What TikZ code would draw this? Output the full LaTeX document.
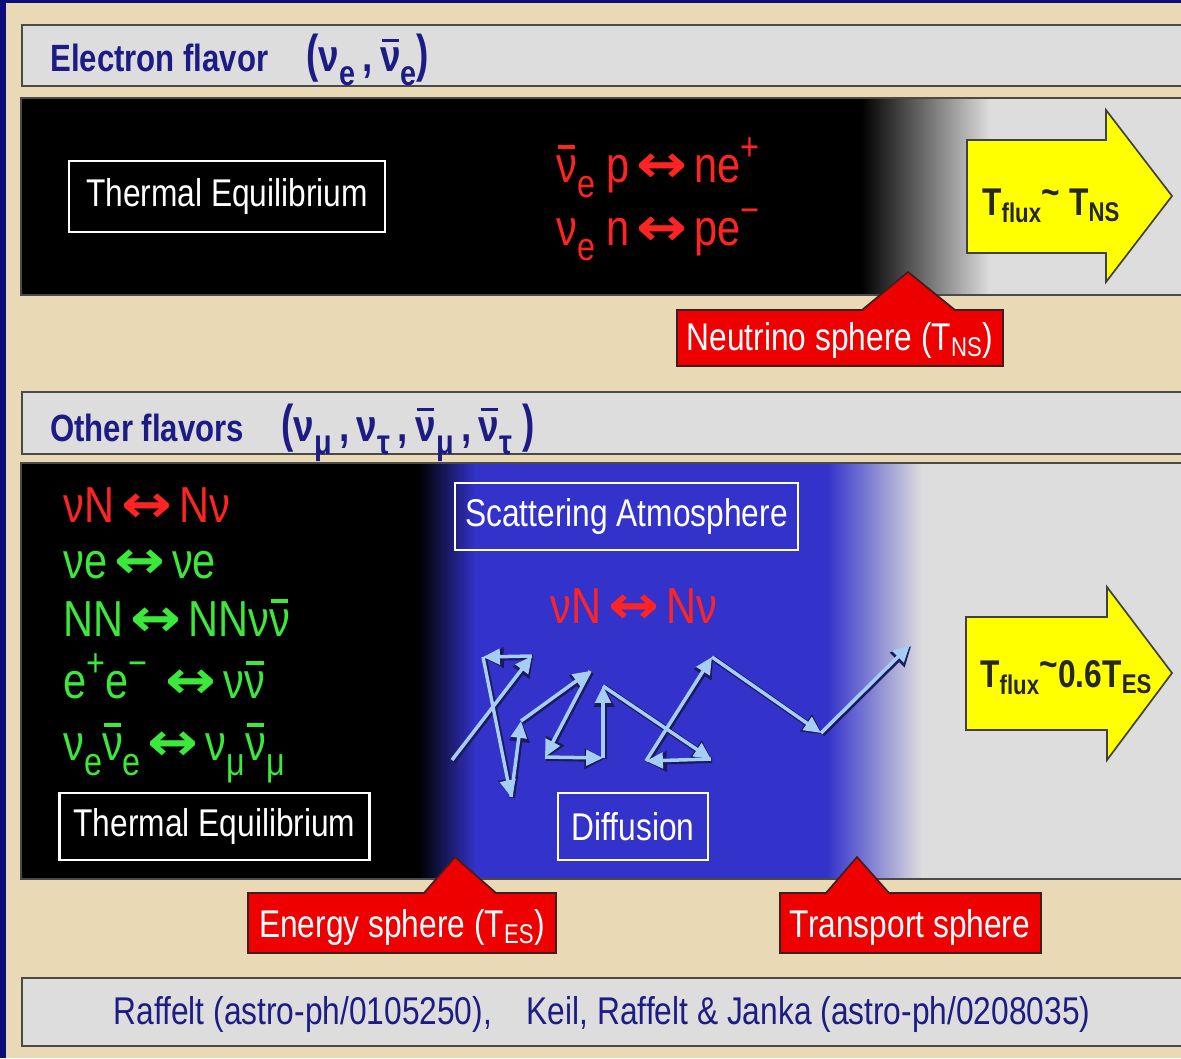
\documentclass[tikz,border=0pt]{standalone}
\usepackage{fontspec}
\setmainfont{Liberation Sans}[FakeStretch=0.82]
\newfontfamily\arrowfont{DejaVu Sans}
\usetikzlibrary{arrows.meta}
\definecolor{bgtan}{HTML}{EAD9B5}
\definecolor{frameblue}{HTML}{0C0C7A}
\definecolor{panelgray}{HTML}{DDDDDD}
\definecolor{panelline}{HTML}{4A4A4A}
\definecolor{navytext}{HTML}{1C1C84}
\definecolor{atmblue}{HTML}{3333CC}
\definecolor{callred}{HTML}{EE0000}
\definecolor{calloutline}{HTML}{3A2020}
\definecolor{rxred}{HTML}{FF2424}
\definecolor{rxgreen}{HTML}{3CE83C}
\definecolor{walkblue}{HTML}{A6CEF5}
\definecolor{walkshade}{HTML}{1A1A5E}
\definecolor{yfill}{HTML}{FFFF00}
\newcommand{\myNubar}{\leavevmode\setbox0=\hbox{ν}\rlap{\kern0.08\wd0\raisebox{0.66em}{\rule{0.84\wd0}{0.075em}}}\box0}
\newcommand{\myLR}{\hspace{0.14em}{\arrowfont\bfseries\scalebox{1.2}[1.05]{↔}}\hspace{0.14em}}
\newcommand{\mysub}[1]{\raisebox{-0.3em}{\scalebox{0.78}{#1}}}
\newcommand{\mysup}[1]{\raisebox{0.42em}{\scalebox{0.78}{#1}}}
\begin{document}
\begin{tikzpicture}[x=0.025cm, y=-0.025cm,
  hdrtxt/.style={font=\fontsize{27}{30}\selectfont\bfseries, text=navytext, anchor=base west, inner sep=0},
  hdrgrp/.style={font=\fontsize{32}{36}\selectfont\bfseries, text=navytext, anchor=base west, inner sep=0},
  tbox/.style={draw=white, line width=1.5pt, font=\fontsize{27.5}{30}\selectfont, text=white, inner sep=0},
  rx/.style={font=\fontsize{36}{40}\selectfont, anchor=base west, inner sep=0},
  panel/.style={fill=panelgray, draw=panelline, line width=1.4pt},
  bandline/.style={draw=panelline, line width=1.4pt},
  callout/.style={fill=callred, draw=calloutline, line width=1.2pt, line join=miter},
  calltxt/.style={font=\fontsize{27.5}{30}\selectfont, text=white, anchor=base, inner sep=0},
  yarrow/.style={fill=yfill, draw=black!75, line width=1.2pt, line join=miter},
  ytxt/.style={font=\fontsize{27.5}{30}\selectfont\bfseries, text=black!85, anchor=base west, inner sep=0},
  walk/.style={draw=walkblue, line width=2.5pt, -{Triangle[length=12pt,width=11pt]}},
  walkshadow/.style={draw=walkshade, line width=4pt, -{Triangle[length=14pt,width=14pt]}},
  foottxt/.style={font=\fontsize{27.5}{30}\selectfont, text=navytext, anchor=base, inner sep=0}
]
\clip (0,0) rectangle (1181,1058);
\fill[bgtan] (0,0) rectangle (1181,1058);
\fill[frameblue] (0,0) rectangle (6,1058);
\fill[frameblue] (0,0) rectangle (1181,3);

% ---------- electron flavor ----------
\path[panel] (22,25) rectangle (1195,86);
\node[hdrtxt] (hdr1) at (50,72) {Electron flavor};
\node[hdrgrp] (hdr1f) at (306,72) {\scalebox{1}[1.15]{(}ν\mysub{e}\,,\,\myNubar\mysub{e}\scalebox{1}[1.15]{)}};

\fill[black] (21,98) rectangle (862,295);
\shade[left color=black, right color=panelgray] (861,98) rectangle (990,295);
\fill[panelgray] (989,98) rectangle (1195,295);
\draw[bandline] (21,98) rectangle (1195,295);

\node[tbox, minimum width=7.9cm, minimum height=1.78cm] (te1) at (227,196.5) {Thermal Equilibrium};
\node[rx, text=rxred] (r1) at (556,182) {\myNubar\mysub{e} p\myLR ne\mysup{+}};
\node[rx, text=rxred] (r2) at (556,245) {ν\mysub{e} n\myLR pe\mysup{−}};

\path[yarrow] (967,140) -- (1106,140) -- (1106,110) -- (1172,196) -- (1106,282) -- (1106,253) -- (967,253) -- cycle;
\node[ytxt] (yt1) at (982,215) {T\textsubscript{flux}\raisebox{0.25em}{\textasciitilde} T\textsubscript{NS}};

\path[callout] (677,310) -- (862,310) -- (908,272) -- (955,310) -- (1003,310) -- (1003,366) -- (677,366) -- cycle;
\node[calltxt] (ns) at (840,350) {Neutrino sphere (T\textsubscript{NS})};

% ---------- other flavors ----------
\path[panel] (22,392) rectangle (1195,454);
\node[hdrtxt] (hdr2) at (50,441) {Other flavors};
\node[hdrgrp] (hdr2f) at (281,441) {\scalebox{1}[1.15]{(}ν\mysub{μ}\,,\,ν\mysub{τ}\,,\,\myNubar\mysub{μ}\,,\,\myNubar\mysub{τ}\ \scalebox{1}[1.15]{)}};

\fill[black] (21,463) rectangle (420,879);
\shade[left color=black, right color=atmblue] (419,463) rectangle (476,879);
\fill[atmblue] (475,463) rectangle (828,879);
\shade[left color=atmblue, right color=panelgray] (827,463) rectangle (922,879);
\fill[panelgray] (921,463) rectangle (1195,879);
\draw[bandline] (21,463) rectangle (1195,879);

\node[rx, text=rxred] (g1) at (63,522) {νN\myLR Nν};
\node[rx, text=rxgreen] (g2) at (63,578) {νe\myLR νe};
\node[rx, text=rxgreen] (g3) at (63,636) {NN\myLR NNν\myNubar};
\node[rx, text=rxgreen] (g4) at (63,698) {e\mysup{+}e\mysup{−} \myLR ν\myNubar};
\node[rx, text=rxgreen] (g5) at (63,760) {ν\mysub{e}\myNubar\mysub{e}\myLR ν\mysub{μ}\myNubar\mysub{μ}};
\node[tbox, minimum width=7.75cm, minimum height=1.675cm] (te2) at (214.5,826.5) {Thermal Equilibrium};

\node[tbox, minimum width=8.575cm, minimum height=1.675cm] (sa) at (626.5,516.5) {Scattering Atmosphere};
\node[rx, text=rxred] (sc) at (550,623) {νN\myLR Nν};
\node[tbox, minimum width=3.75cm, minimum height=1.675cm] (df) at (633,826.5) {Diffusion};

% random walk
\coordinate (w0) at (452,760);
\coordinate (w1) at (532,656);
\coordinate (w2) at (483,657);
\coordinate (w3) at (511,797);
\coordinate (w4) at (521,721);
\coordinate (w5) at (590,671);
\coordinate (w6) at (545,757);
\coordinate (w7) at (603,758);
\coordinate (w8) at (603,686);
\coordinate (w9) at (711,759);
\coordinate (w10) at (646,761);
\coordinate (w11) at (712,657);
\coordinate (w12) at (821,733);
\coordinate (w13) at (910,645);
\begin{scope}[transform canvas={shift={(0.8pt,-0.8pt)}}]
\foreach \a/\b in {w0/w1,w1/w2,w2/w3,w3/w4,w4/w5,w5/w6,w6/w7,w7/w8,w8/w9,w9/w10,w10/w11,w11/w12,w12/w13}
  \draw[walkshadow] (\a) -- (\b);
\end{scope}
\foreach \a/\b in {w0/w1,w1/w2,w2/w3,w3/w4,w4/w5,w5/w6,w6/w7,w7/w8,w8/w9,w9/w10,w10/w11,w11/w12,w12/w13}
  \draw[walk] (\a) -- (\b);

\path[yarrow] (966,617) -- (1107,617) -- (1107,587) -- (1172,673) -- (1107,760) -- (1107,730) -- (966,730) -- cycle;
\node[ytxt] (yt2) at (980,687) {T\textsubscript{flux}\raisebox{0.25em}{\textasciitilde}0.6T\textsubscript{ES}};

\path[callout] (248,893) -- (424,893) -- (455,857) -- (496,893) -- (556,893) -- (556,953) -- (248,953) -- cycle;
\node[calltxt] (es) at (402,937) {Energy sphere (T\textsubscript{ES})};
\path[callout] (780,893) -- (826,893) -- (857,857) -- (889,893) -- (1041,893) -- (1041,953) -- (780,953) -- cycle;
\node[calltxt] (ts) at (910,937) {Transport sphere};

% ---------- footer ----------
\path[panel] (22,978) rectangle (1195,1046);
\node[foottxt] (ft) at (602,1024) {Raffelt (astro-ph/0105250),\hspace{0.9em}Keil, Raffelt \& Janka (astro-ph/0208035)};
\end{tikzpicture}
\end{document}
